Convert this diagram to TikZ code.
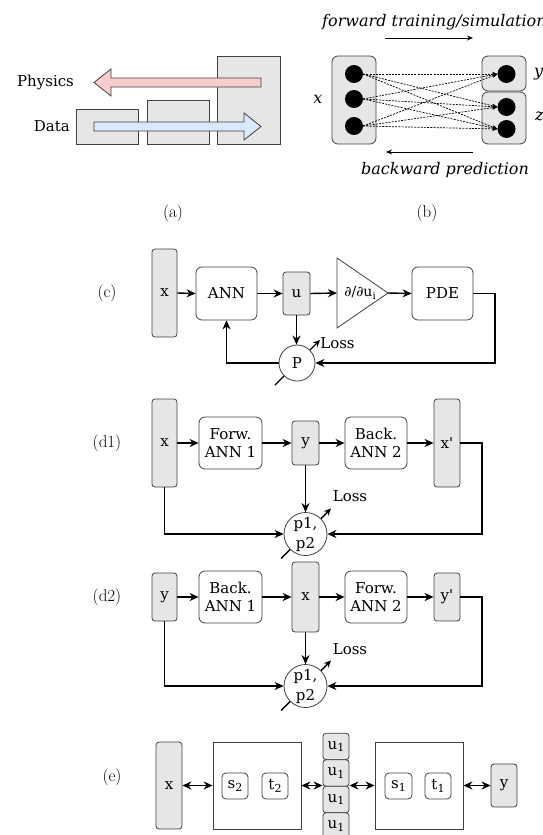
\documentclass[tikz,border=0pt]{standalone}
\usepackage{fontspec}
\newfontfamily\dv{DejaVu Serif}
\usetikzlibrary{arrows.meta,calc}
\definecolor{boxgray}{RGB}{230,230,230}
\definecolor{pinkf}{RGB}{248,206,204}
\definecolor{bluef}{RGB}{218,232,252}
\begin{document}
\begin{tikzpicture}[x=1pt,y=-1pt,
  every node/.style={font=\dv\fontsize{15}{17}\selectfont},
  gbox/.style={draw=black!75, fill=boxgray, rounded corners=3pt, line width=0.8pt, inner sep=0pt},
  wbox/.style={draw=black!75, fill=white, rounded corners=6pt, line width=0.8pt, inner sep=0pt, align=center, font=\dv\fontsize{15}{18}\selectfont},
  sbox/.style={draw=black!75, fill=white, line width=0.8pt, inner sep=0pt, minimum width=88pt, minimum height=87pt},
  circ/.style={circle, draw=black!75, fill=white, line width=0.8pt, inner sep=0pt, align=center},
  arr/.style={line width=1.4pt, -{Stealth[length=9pt,width=8pt]}},
  darr/.style={line width=1.4pt, {Stealth[length=9pt,width=8pt]}-{Stealth[length=9pt,width=8pt]}},
  thin/.style={line width=0.9pt},
  lbl/.style={font=\normalfont\fontsize{17}{20}\selectfont},
  dot/.style={circle, fill=black, inner sep=0pt, minimum size=18pt},
  dsh/.style={line width=0.7pt, dash pattern=on 2pt off 1.2pt, -{Stealth[length=5pt,width=4.5pt]}},
  ital/.style={font=\dv\itshape\fontsize{16}{18}\selectfont},
]
\useasboundingbox (0,0) rectangle (543,835);

% ---------------- (a) ----------------
\draw[fill=boxgray, draw=black!75, line width=0.8pt] (76,109) rectangle (138,144);
\draw[fill=boxgray, draw=black!75, line width=0.8pt] (147,100) rectangle (209,144);
\draw[fill=boxgray, draw=black!75, line width=0.8pt] (217,56) rectangle (280,144);
\draw[fill=pinkf, draw=black!75, line width=0.8pt]
  (261,78) -- (111,78) -- (111,69) -- (94,82.5) -- (111,96) -- (111,87) -- (261,87) -- cycle;
\draw[fill=bluef, draw=black!75, line width=0.8pt]
  (94,122) -- (244,122) -- (244,113) -- (261,126.5) -- (244,140) -- (244,131) -- (94,131) -- cycle;
\node (phys) at (45.5,82) {Physics};
\node[anchor=east, inner sep=0pt] (data) at (70,126) {Data};
\node[lbl] (la) at (173,213) {(a)};

% ---------------- (b) ----------------
\node[ital, anchor=west, inner sep=0pt] (fwd) at (322,22) {forward training/simulation};
\coordinate (f1) at (385,38); \coordinate (f2) at (473,38);
\draw[thin, -{Stealth[length=6pt,width=5pt]}] (f1) -- (f2);
\coordinate (b1) at (473,152); \coordinate (b2) at (386,152);
\draw[thin, -{Stealth[length=6pt,width=5pt]}] (b1) -- (b2);
\node[ital] (bwd) at (445,170) {backward prediction};
\draw[fill=boxgray, draw=black!75, line width=0.8pt, rounded corners=6pt] (332,56) rectangle (376,144);
\draw[fill=boxgray, draw=black!75, line width=0.8pt, rounded corners=6pt] (482,56) rectangle (526,91);
\draw[fill=boxgray, draw=black!75, line width=0.8pt, rounded corners=6pt] (482,92) rectangle (526,144);
\node[dot] (l1) at (354,74) {};
\node[dot] (l2) at (354,99) {};
\node[dot] (l3) at (354,126) {};
\node[dot] (r1) at (506.5,74) {};
\node[dot] (r2) at (506.5,107) {};
\node[dot] (r3) at (506.5,129) {};
\foreach \a in {l1,l2,l3}{
  \foreach \b in {r1,r2,r3}{
    \draw[dsh] (\a.east) -- (\b.west);
  }
}
\node[ital] (lx) at (318,99) {x};
\node[ital, anchor=west, inner sep=0pt] (ly) at (534,74) {y};
\node[ital, anchor=west, inner sep=0pt] (lz) at (535,116) {z};
\node[lbl] (lb) at (427,213) {(b)};

% ---------------- (c) ----------------
\node[lbl] (lc) at (107,293) {(c)};
\node[gbox, minimum width=25pt, minimum height=88pt] (xc) at (164.5,293) {x};
\node[wbox, minimum width=61pt, minimum height=53pt] (annc) at (226.5,293.5) {ANN};
\node[gbox, minimum width=27pt, minimum height=43pt] (uc) at (296.5,293.5) {u};
\draw[draw=black!75, fill=white, line width=0.8pt] (337,258) -- (388,293) -- (337,328) -- cycle;
\coordinate (triL) at (337,293);
\coordinate (triR) at (388,293);
\node (dd) at (360,293) {\fontsize{14}{16}\selectfont ∂/∂u\raisebox{-0.35ex}{\fontsize{10}{10}\selectfont i}};
\node[wbox, minimum width=61pt, minimum height=53pt] (pdec) at (442.5,293.5) {PDE};
\node[circ, minimum size=36pt] (Pc) at (297,363) {P};
\coordinate (cR) at (495,363);
\draw[arr] (xc.east) -- (annc.west);
\draw[arr] (annc.east) -- (uc.west);
\draw[arr] (uc.east) -- (triL);
\draw[arr] (triR) -- (pdec.west);
\draw[arr] (pdec.east) -| (cR) -- (Pc.east);
\draw[arr] (Pc.west) -| (annc.south);
\draw[arr] (uc.south) -- (uc.south |- Pc.north);
\draw[line width=1.4pt, -{Stealth[length=7pt,width=6.5pt]}] (Pc.45) -- ++(10,-10);
\draw[line width=1.4pt] (Pc.225) -- ++(-9,9);
\node (lossc) at (337.5,343) {Loss};

% ---------------- (d1) ----------------
\node[lbl] (ld1) at (107,443) {(d1)};
\node[gbox, minimum width=25pt, minimum height=88pt] (xd1) at (164.5,443) {x};
\node[wbox, minimum width=63pt, minimum height=52pt] (fa1) at (230.5,443) {Forw.\\ANN 1};
\node[gbox, minimum width=27pt, minimum height=44pt] (yd1) at (305.5,443) {y};
\node[wbox, minimum width=62pt, minimum height=52pt] (ba2) at (376,443) {Back.\\ANN 2};
\node[gbox, minimum width=26pt, minimum height=88pt] (xpd1) at (447,443) {x'};
\node[circ, minimum size=43pt, font=\dv\fontsize{15}{20}\selectfont] (pa) at (305.5,534) {p1,\\p2};
\coordinate (cd1) at (482,534);
\draw[arr] (xd1.east) -- (fa1.west);
\draw[arr] (fa1.east) -- (yd1.west);
\draw[arr] (yd1.east) -- (ba2.west);
\draw[arr] (ba2.east) -- (xpd1.west);
\draw[arr] (xd1.south) |- (pa.west);
\draw[arr] (xpd1.east) -| (cd1) -- (pa.east);
\draw[arr] (yd1.south) -- (pa.north);
\draw[line width=1.4pt, -{Stealth[length=7pt,width=6.5pt]}] (pa.45) -- ++(10,-10);
\draw[line width=1.4pt] (pa.225) -- ++(-9,9);
\node (lossd1) at (350,496) {Loss};

% ---------------- (d2) ----------------
\node[lbl] (ld2) at (107,597) {(d2)};
\node[gbox, minimum width=25pt, minimum height=48pt] (yd2) at (164.5,597) {y};
\node[wbox, minimum width=63pt, minimum height=52pt] (ba1) at (230.5,597) {Back.\\ANN 1};
\node[gbox, minimum width=27pt, minimum height=70pt] (xd2) at (305.5,597) {x};
\node[wbox, minimum width=62pt, minimum height=52pt] (fa2) at (376,597) {Forw.\\ANN 2};
\node[gbox, minimum width=26pt, minimum height=48pt] (ypd2) at (447,597) {y'};
\node[circ, minimum size=43pt, font=\dv\fontsize{15}{20}\selectfont] (pb) at (305.5,686) {p1,\\p2};
\coordinate (cd2) at (482,686);
\draw[arr] (yd2.east) -- (ba1.west);
\draw[arr] (ba1.east) -- (xd2.west);
\draw[arr] (xd2.east) -- (fa2.west);
\draw[arr] (fa2.east) -- (ypd2.west);
\draw[arr] (yd2.south) |- (pb.west);
\draw[arr] (ypd2.east) -| (cd2) -- (pb.east);
\draw[arr] (xd2.south) -- (pb.north);
\draw[line width=1.4pt, -{Stealth[length=7pt,width=6.5pt]}] (pb.45) -- ++(10,-10);
\draw[line width=1.4pt] (pb.225) -- ++(-9,9);
\node (lossd2) at (350,649) {Loss};

% ---------------- (e) ----------------
\node[lbl] (le) at (112,777) {(e)};
\node[gbox, minimum width=26pt, minimum height=87pt] (xe) at (169,785.5) {x};
\node[sbox] (boxL) at (257,785.5) {};
\node[wbox, rounded corners=4pt, minimum width=26pt, minimum height=26pt] (s2) at (235,786) {s\raisebox{-0.35ex}{\fontsize{11}{11}\selectfont 2}};
\node[wbox, rounded corners=4pt, minimum width=26pt, minimum height=26pt] (t2) at (275,786) {t\raisebox{-0.35ex}{\fontsize{11}{11}\selectfont 2}};
\node[gbox, minimum width=26pt, minimum height=26.5pt] (ue1) at (336,746.5) {u\raisebox{-0.35ex}{\fontsize{11}{11}\selectfont 1}};
\node[gbox, minimum width=26pt, minimum height=26.5pt] (ue2) at (336,773) {u\raisebox{-0.35ex}{\fontsize{11}{11}\selectfont 1}};
\node[gbox, minimum width=26pt, minimum height=26.5pt] (ue3) at (336,799.5) {u\raisebox{-0.35ex}{\fontsize{11}{11}\selectfont 1}};
\node[gbox, minimum width=26pt, minimum height=26.5pt] (ue4) at (336,826) {u\raisebox{-0.35ex}{\fontsize{11}{11}\selectfont 1}};
\node[sbox] (boxR) at (419,785.5) {};
\node[wbox, rounded corners=4pt, minimum width=27pt, minimum height=26pt] (s1) at (398.5,786) {s\raisebox{-0.35ex}{\fontsize{11}{11}\selectfont 1}};
\node[wbox, rounded corners=4pt, minimum width=26pt, minimum height=26pt] (t1) at (438,786) {t\raisebox{-0.35ex}{\fontsize{11}{11}\selectfont 1}};
\node[gbox, minimum width=26pt, minimum height=43pt] (ye) at (504,785.5) {y};
\draw[darr] (xe.east) -- (boxL.west);
\draw[darr] (boxL.east) -- (boxL.east -| ue2.west);
\draw[darr] (boxR.west -| ue2.east) -- (boxR.west);
\draw[darr] (boxR.east) -- (ye.west);
\end{tikzpicture}
\end{document}
